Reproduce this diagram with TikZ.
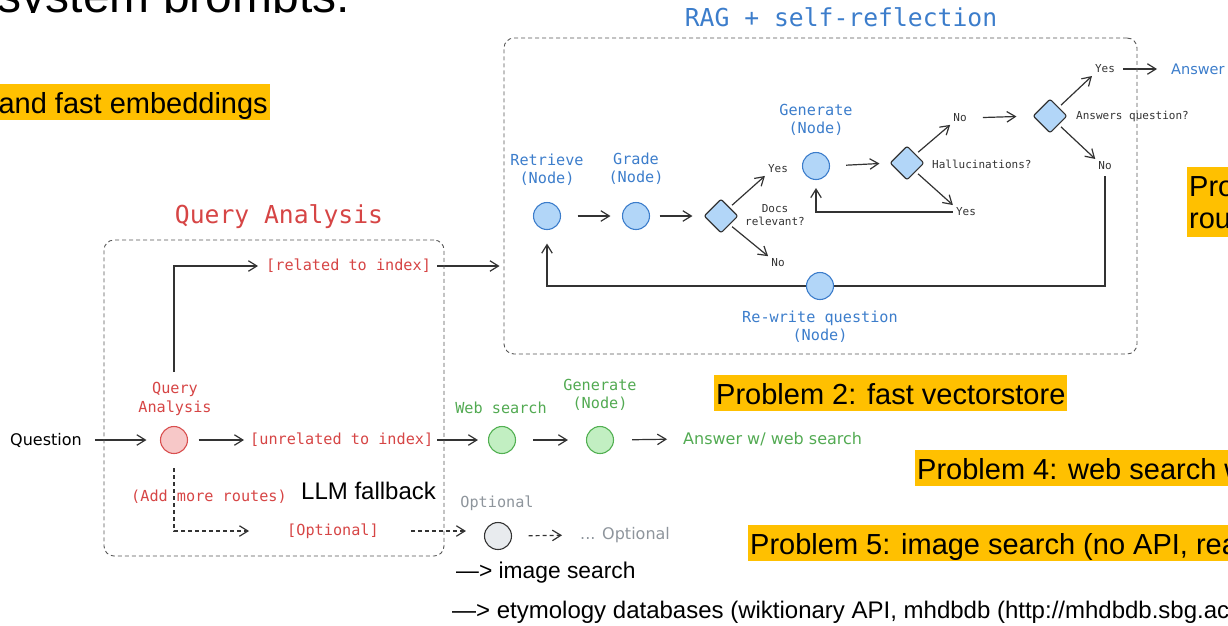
\documentclass[tikz,border=0pt]{standalone}
\usepackage{fontspec}
\setmainfont{Liberation Sans}
\newfontfamily\monof{DejaVu Sans Mono}
\newfontfamily\handf{DejaVu Sans}
\usetikzlibrary{arrows.meta,shapes.geometric}
\definecolor{linec}{HTML}{333333}
\definecolor{framec}{HTML}{555555}
\definecolor{redt}{HTML}{D64545}
\definecolor{bluet}{HTML}{3C7DCB}
\definecolor{greent}{HTML}{52AA52}
\definecolor{grayt}{HTML}{8E959C}
\definecolor{hl}{HTML}{FFC000}
\definecolor{bfill}{HTML}{B2D6F8}
\definecolor{bdraw}{HTML}{3C7DCB}
\definecolor{gfill}{HTML}{C2EFC2}
\definecolor{gdraw}{HTML}{52B052}
\definecolor{rfill}{HTML}{F7C8C8}
\definecolor{rdraw}{HTML}{D94F4F}
\definecolor{ofill}{HTML}{E8EBEE}
\pgfdeclarelayer{bg}
\pgfsetlayers{bg,main}
\tikzset{
 conn/.style={draw=linec, line width=1.2pt, -{Straight Barb[length=8.5pt,width=10.5pt]}},
 dconn/.style={conn, dash pattern=on 4pt off 3pt},
 frame/.style={draw=framec, line width=0.9pt, dash pattern=on 4pt off 3pt, rounded corners=10pt, inner sep=0pt},
 cnode/.style={circle, minimum size=27pt, inner sep=0pt, line width=1.1pt},
 bcirc/.style={cnode, fill=bfill, draw=bdraw},
 gcirc/.style={cnode, fill=gfill, draw=gdraw},
 rcirc/.style={cnode, fill=rfill, draw=rdraw},
 ocirc/.style={cnode, fill=ofill, draw=linec},
 dia/.style={diamond, minimum size=34pt, inner sep=0pt, fill=bfill, draw=linec, line width=1.1pt, rounded corners=2pt},
 lbl/.style={font=\monof\fontsize{15.2}{18.5}\selectfont, align=center, inner sep=0pt},
 blbl/.style={lbl, text=bluet},
 rlbl/.style={lbl, text=redt},
 glbl/.style={lbl, text=greent},
 graylbl/.style={lbl, text=grayt},
 small/.style={font=\monof\fontsize{11}{13}\selectfont, text=linec, align=center, inner sep=0pt},
 hand/.style={font=\handf\fontsize{16}{19}\selectfont, inner sep=0pt},
 ttl/.style={font=\monof\fontsize{24.7}{28}\selectfont, inner sep=0pt},
 hilite/.style={fill=hl, inner xsep=2pt, inner ysep=0pt, text height=29.5pt, text depth=6pt, font=\fontsize{29}{32}\selectfont, text=black},
 big/.style={font=\fontsize{22.8}{26}\selectfont, inner sep=0pt, text=black},
}
\begin{document}
\begin{tikzpicture}[x=1pt,y=-1pt]
\useasboundingbox (0,0) rectangle (1228,625);
\clip (0,0) rectangle (1228,625);

% top title (cut off)
\begin{scope}
\clip (0,0) rectangle (420,12.7);
\node[font=\fontsize{48}{52}\selectfont, inner sep=0pt, anchor=base east] (sysprompt) at (350,12) {system prompts:};
\end{scope}

% highlights
\node[hilite, anchor=north east] (emb) at (270,84) {and fast embeddings};
\node[hilite, anchor=north west] (p2) at (714,375) {Problem 2: fast vectorstore};
\node[hilite, anchor=north west] (p4) at (915,450) {Problem 4: web search w};
\node[hilite, anchor=north west] (p5) at (748,525) {Problem 5: image search (no API, rea};
\node[fill=hl, inner xsep=2pt, inner ysep=0pt, minimum height=70pt, align=left, font=\fontsize{29}{32}\selectfont, anchor=north west] (p3) at (1187,167) {Pro\\rou};

% frames
\node[frame, minimum width=340pt, minimum height=316pt] (qaframe) at (274,398) {};
\node[frame, minimum width=633pt, minimum height=316pt] (rag) at (820.5,196) {};

% titles
\node[ttl, text=redt] (qatitle) at (279,217) {Query Analysis};
\node[ttl, text=bluet] (ragtitle) at (841,17) {RAG + self-reflection};

% Query analysis part
\node[hand, text=black] (question) at (46,440) {Question};
\node[rcirc] (qa) at (174,440) {};
\node[rlbl] (qalbl) at (175,399) {Query\\Analysis};
\node[rlbl, anchor=west] (related) at (266,266) {[related to index]};
\node[rlbl, anchor=west] (unrelated) at (250,440) {[unrelated to index]};
\node[rlbl] (addroutes) at (209,497) {(Add more routes)};
\node[rlbl] (optlbl) at (333,531) {[Optional]};
\node[font=\fontsize{24}{28}\selectfont, inner sep=0pt, anchor=base west] (llm) at (301,499) {LLM fallback};
\coordinate (qaup) at (174,372);
\coordinate (qadown) at (174,468);

% web search part
\node[gcirc] (ws) at (502,440) {};
\node[glbl] (wslbl) at (501,408) {Web search};
\node[gcirc] (gen2) at (600,440) {};
\node[glbl] (gen2lbl) at (600,395) {Generate\\(Node)};
\node[hand, text=greent, anchor=west] (answeb) at (683,439) {Answer w/ web search};

% optional part
\node[ocirc] (optc) at (498,536) {};
\node[graylbl] (optclbl) at (497,503) {Optional};
\node[hand, text=grayt, anchor=west] (opttxt) at (580,535) {... Optional};

% bottom text
\node[big, anchor=base west] (imgs) at (456,578) {—> image search};
\node[big, anchor=base west, font=\fontsize{24}{28}\selectfont] (etym) at (452,618) {—> etymology databases (wiktionary API, mhdbdb (http://mhdbdb.sbg.ac};

% RAG nodes
\node[bcirc] (retr) at (547,216) {};
\node[blbl] (retrlbl) at (547,169.5) {Retrieve\\(Node)};
\node[bcirc] (grade) at (636,216) {};
\node[blbl] (gradelbl) at (636,168.5) {Grade\\(Node)};
\node[dia] (d1) at (721,216) {};
\node[small] (docs) at (775,215.5) {Docs\\relevant?};
\node[small] (yes1) at (778,169) {Yes};
\node[small] (no1) at (778,263) {No};
\node[bcirc] (gen) at (816,166) {};
\node[blbl] (genlbl) at (816,120) {Generate\\(Node)};
\node[dia] (d2) at (907,163) {};
\node[small, anchor=west] (hall) at (932,164) {Hallucinations?};
\node[small] (no2) at (960,118) {No};
\node[small] (yes2) at (966,212) {Yes};
\node[dia] (d3) at (1050,116) {};
\node[small, anchor=west] (ansq) at (1076,116) {Answers question?};
\node[small] (yes3) at (1105,69) {Yes};
\node[small] (no3) at (1105,166) {No};
\node[hand, text=bluet, anchor=west, font=\handf\fontsize{14.5}{17}\selectfont] (answer) at (1171,69) {Answer};
\node[bcirc] (rew) at (820,286) {};
\node[blbl] (rewlbl) at (820,326.5) {Re-write question\\(Node)};

\begin{pgfonlayer}{bg}
\draw[conn, shorten <=13pt, shorten >=13.5pt] (question.east) -- (qa.west);
\draw[conn, shorten >=8pt] (qaup) |- (related.west);
\draw[conn, shorten <=10.5pt, shorten >=6pt] (qa.east) -- (unrelated.west);
\draw[conn, shorten <=6pt, shorten >=4pt] (related.east) -- (related.east -| rag.west);
\draw[conn, shorten <=4pt, shorten >=10pt] (unrelated.east) -- (ws.west);
\draw[conn, shorten <=17pt, shorten >=18pt] (ws.east) -- (gen2.west);
\draw[conn, shorten <=18pt, shorten >=16pt] (gen2.east) -- (answeb.west);
\draw[dconn, shorten >=38pt] (qadown) |- (optlbl.west);
\draw[dconn, shorten <=32pt, shorten >=18pt] (optlbl.east) -- (optlbl.east -| optc.west);
\draw[dconn, shorten <=16.5pt, shorten >=18pt] (optc.east) -- (opttxt.west);

\draw[conn, shorten <=16.5pt, shorten >=11.5pt] (retr.east) -- (grade.west);
\draw[conn, shorten <=9.5pt, shorten >=11pt] (grade.east) -- (d1.west);
\draw[conn, shorten <=3pt, shorten >=4pt] (d1.north east) -- (yes1.south west);
\draw[conn, shorten <=3pt, shorten >=4pt] (d1.south east) -- (no1.north west);
\draw[conn, shorten <=16pt, shorten >=10pt] (gen.east) -- (d2.west);
\draw[conn, shorten <=3pt, shorten >=4pt] (d2.north east) -- (no2.south west);
\draw[conn, shorten <=3pt, shorten >=4pt] (d2.south east) -- (yes2.north west);
\draw[conn, shorten <=3pt, shorten >=8pt] (yes2.west) -| (gen.south);
\draw[conn, shorten <=16pt, shorten >=16pt] (no2.east) -- (d3.west);
\draw[conn, shorten <=3pt, shorten >=4pt] (d3.north east) -- (yes3.south west);
\draw[conn, shorten <=3pt, shorten >=4pt] (d3.south east) -- (no3.north west);
\draw[conn, shorten <=8pt, shorten >=14pt] (yes3.east) -- (answer.west);
\draw[conn, shorten <=6pt, shorten >=13.5pt] (no3.south) |- (rew.center) -| (retr.south);
\end{pgfonlayer}
\end{tikzpicture}
\end{document}
